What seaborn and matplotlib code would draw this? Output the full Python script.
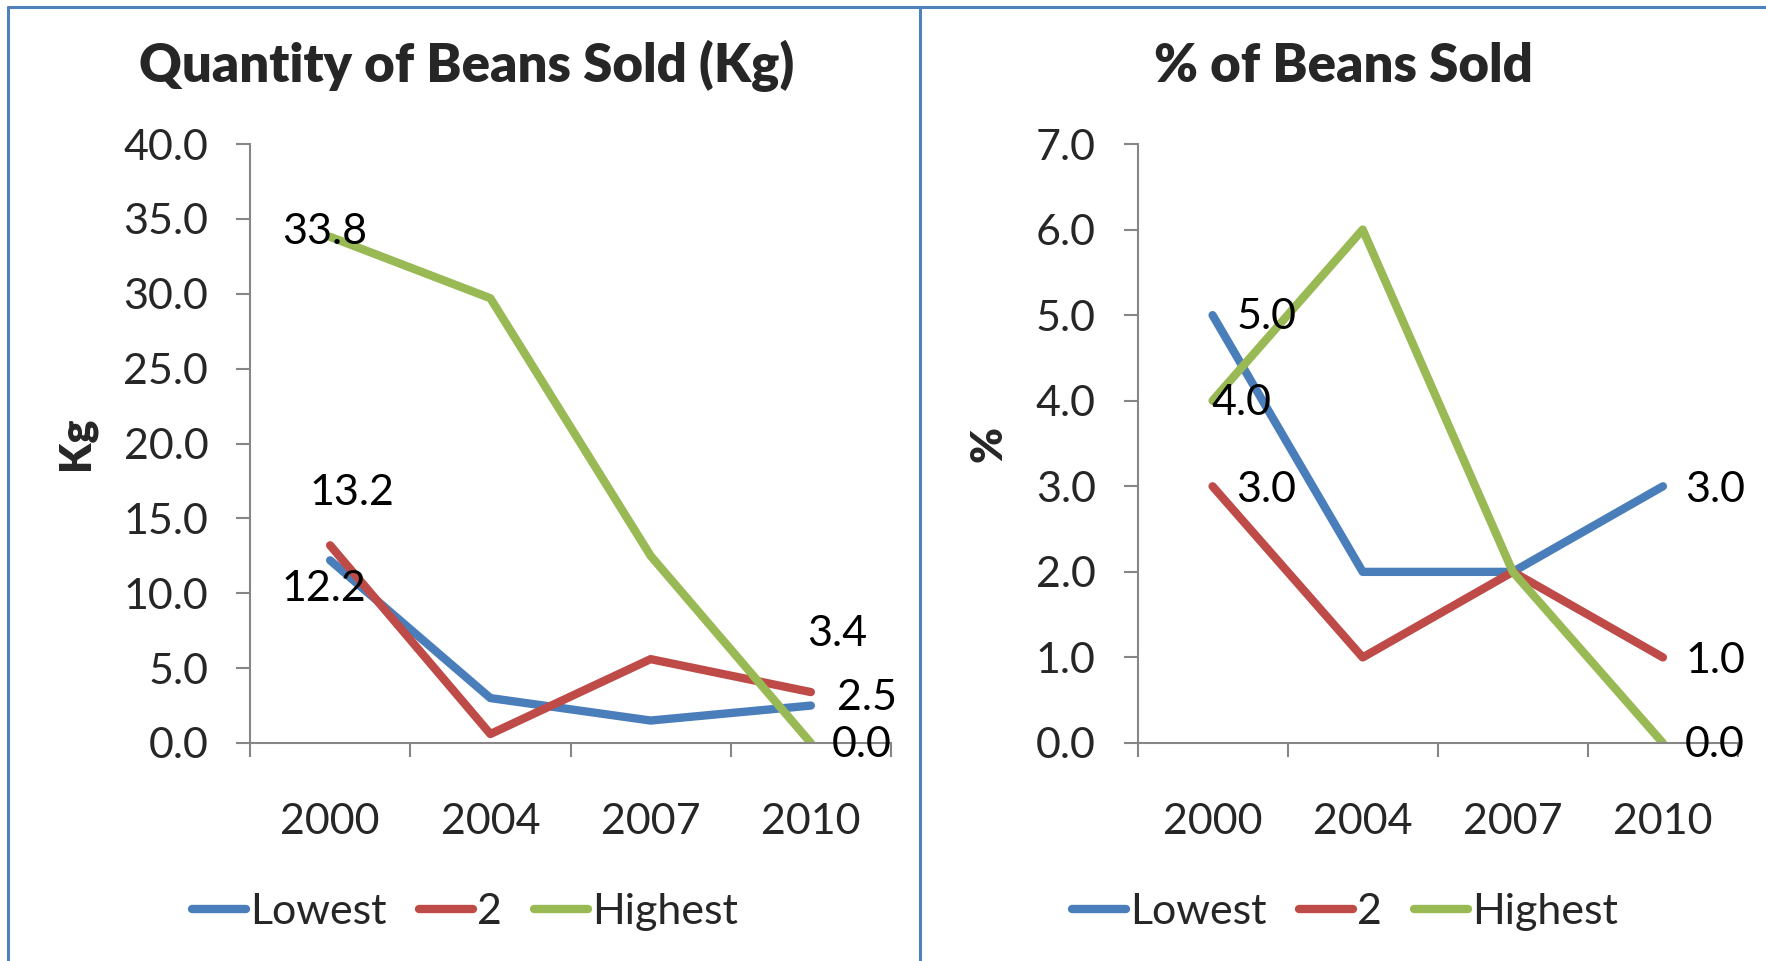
import matplotlib
matplotlib.use("Agg")
import matplotlib.pyplot as plt
from matplotlib.lines import Line2D
import seaborn as sns
import pandas as pd

years = ["2000", "2004", "2007", "2010"]
series_names = ["Lowest", "2", "Highest"]
kg_lowest = [12.2, 3.0, 1.5, 2.5]
kg_2 = [13.2, 0.6, 5.6, 3.4]
kg_highest = [33.8, 29.7, 12.5, 0.0]
pct_lowest = [5.0, 2.0, 2.0, 3.0]
pct_2 = [3.0, 1.0, 2.0, 1.0]
pct_highest = [4.0, 6.0, 2.0, 0.0]
colors = ["#4A7EBB", "#BE4B48", "#98B954"]

sns.set_theme(style="white")
plt.rcParams['font.family'] = ['Lato', 'DejaVu Sans']

FS = 31
LW = 6
W, H = 1766, 961
fig = plt.figure(figsize=(W / 100, H / 100), dpi=100)


def long_df(vals):
    rows = []
    for name, v in zip(series_names, vals):
        for y, val in zip(years, v):
            rows.append({"Year": y, "Value": val, "Series": name})
    return pd.DataFrame(rows)


def px_axes(x0, x1, ytop, ybot):
    return fig.add_axes([x0 / W, 1 - ybot / H, (x1 - x0) / W, (ybot - ytop) / H])


def style_axes(ax, ymax, step):
    ax.set_xlim(-0.5, 3.5)
    ax.set_ylim(0, ymax)
    ticks = [i * step for i in range(int(round(ymax / step)) + 1)]
    ax.set_yticks(ticks)
    ax.set_yticklabels([f"{t:.1f}" for t in ticks], fontsize=FS)
    ax.set_xticks([-0.5, 0.5, 1.5, 2.5, 3.5])
    ax.set_xticklabels([])
    ax.set_xticks([0, 1, 2, 3], minor=True)
    ax.set_xticklabels(years, minor=True, fontsize=FS)
    ax.tick_params(axis="x", which="major", length=10, width=1.5, color="#868686", direction="out", bottom=True)
    ax.tick_params(axis="x", which="minor", length=0, pad=43)
    ax.tick_params(axis="y", which="major", length=10, width=1.5, color="#868686", direction="out", left=True, pad=20)
    for s in ["top", "right"]:
        ax.spines[s].set_visible(False)
    for s in ["left", "bottom"]:
        ax.spines[s].set_color("#868686")
        ax.spines[s].set_linewidth(1.5)
    ax.set_xlabel("")
    ax.grid(False)


def draw(ax, vals):
    df = long_df(vals)
    sns.lineplot(data=df, x="Year", y="Value", hue="Series", hue_order=series_names,
                 palette=colors, linewidth=LW, legend=False, sort=False, ax=ax,
                 solid_capstyle="round", solid_joinstyle="round")


# Left chart
ax1 = px_axes(250, 891, 144, 743)
draw(ax1, [kg_lowest, kg_2, kg_highest])
style_axes(ax1, 40, 5)
ax1.set_ylabel("Kg", fontsize=FS, fontweight="heavy", labelpad=20)

lab_kw = dict(textcoords="offset pixels", fontsize=FS, ha="center", va="center", color="black")
ax1.annotate(f"{kg_highest[0]:.1f}", (0, kg_highest[0]), xytext=(-5, 5), **lab_kw)
ax1.annotate(f"{kg_2[0]:.1f}", (0, kg_2[0]), xytext=(22, 52), **lab_kw)
ax1.annotate(f"{kg_lowest[0]:.1f}", (0, kg_lowest[0]), xytext=(-6, -29), **lab_kw)
ax1.annotate(f"{kg_2[3]:.1f}", (3, kg_2[3]), xytext=(26, 58), **lab_kw)
ax1.annotate(f"{kg_lowest[3]:.1f}", (3, kg_lowest[3]), xytext=(56, 8), **lab_kw)
ax1.annotate(f"{kg_highest[3]:.1f}", (3, kg_highest[3]), xytext=(51, -2), **lab_kw)

# Right chart
ax2 = px_axes(1137.5, 1738, 144, 743)
draw(ax2, [pct_lowest, pct_2, pct_highest])
style_axes(ax2, 7, 1)
ax2.set_ylabel("%", fontsize=FS, fontweight="heavy", labelpad=20)

ax2.annotate(f"{pct_lowest[0]:.1f}", (0, pct_lowest[0]), xytext=(54, -2), **lab_kw)
ax2.annotate(f"{pct_highest[0]:.1f}", (0, pct_highest[0]), xytext=(29, -2), **lab_kw)
ax2.annotate(f"{pct_2[0]:.1f}", (0, pct_2[0]), xytext=(54, -4), **lab_kw)
ax2.annotate(f"{pct_lowest[3]:.1f}", (3, pct_lowest[3]), xytext=(52, -4), **lab_kw)
ax2.annotate(f"{pct_2[3]:.1f}", (3, pct_2[3]), xytext=(52, -4), **lab_kw)
ax2.annotate(f"{pct_highest[3]:.1f}", (3, pct_highest[3]), xytext=(52, -2), **lab_kw)

# Titles
fig.text(467 / W, 1 - 66 / H, "Quantity of Beans Sold (Kg)", fontsize=38, fontweight="heavy",
         ha="center", va="center")
fig.text(1343 / W, 1 - 66 / H, "% of Beans Sold", fontsize=38, fontweight="heavy",
         ha="center", va="center")

# Legends
handles = [Line2D([0], [0], color=c, lw=LW, solid_capstyle="round") for c in colors]
for cx in (465, 1345):
    fig.legend(handles, series_names, loc="center", bbox_to_anchor=(cx / W, 1 - 912 / H),
               ncol=3, frameon=False, fontsize=FS, handlelength=1.25, handletextpad=0.1,
               columnspacing=0.75, borderaxespad=0)

# Panel borders
bcol = "#4F81BD"
fig.add_artist(Line2D([8 / W, 1], [1 - 7 / H, 1 - 7 / H], color=bcol, lw=2.2, transform=fig.transFigure))
fig.add_artist(Line2D([8 / W, 8 / W], [0, 1 - 7 / H], color=bcol, lw=2.2, transform=fig.transFigure))
fig.add_artist(Line2D([920 / W, 920 / W], [0, 1 - 7 / H], color=bcol, lw=2.2, transform=fig.transFigure))

fig.savefig("out.png", dpi=100)
